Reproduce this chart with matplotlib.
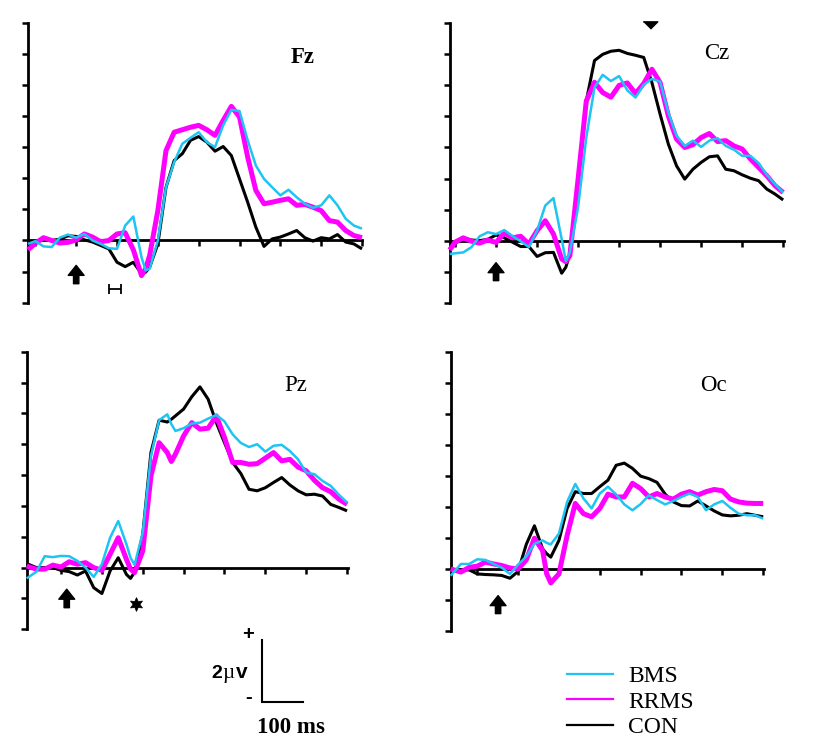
import numpy as np
import matplotlib
matplotlib.use("Agg")
import matplotlib.pyplot as plt
from matplotlib.transforms import Affine2D
from matplotlib.lines import Line2D

# ---------------- data (time in ms, amplitude in microvolts) ----------------
series_names = ["BMS", "RRMS", "CON"]
series_colors = ["#1EC4F2", "#FF00FF", "#000000"]

fz_t = [-118, -100, -80, -60, -40, -20, 0, 20, 40, 60, 80, 100, 120, 140, 160, 170, 180,
        200, 220, 240, 260, 280, 300, 320, 340, 360, 380, 400, 420, 440, 460, 480, 500,
        520, 540, 560, 580, 600, 620, 640, 660, 680, 700]
fz_con = [-0.16, -0.05, 0.02, 0.00, 0.04, 0.15, 0.13, 0.02, -0.05, -0.16, -0.27, -0.70, -0.84,
          -0.70, -1.07, -1.02, -0.86, -0.11, 1.71, 2.57, 2.79, 3.22, 3.34, 3.16, 2.87, 3.02,
          2.73, 1.98, 1.23, 0.43, -0.19, 0.05, 0.11, 0.21, 0.32, 0.09, -0.02, 0.09, 0.05,
          0.19, -0.05, -0.11, -0.27]
fz_rrms = [-0.30, -0.09, 0.09, 0.00, -0.08, -0.06, 0.02, 0.21, 0.11, -0.04, 0.00, 0.21, 0.25,
           -0.30, -1.13, -0.91, -0.48, 0.96, 2.89, 3.48, 3.56, 3.64, 3.70, 3.56, 3.38, 3.86,
           4.31, 3.97, 2.68, 1.61, 1.18, 1.23, 1.29, 1.34, 1.13, 1.16, 1.07, 0.96, 0.64,
           0.59, 0.32, 0.16, 0.09]
fz_bms = [-0.11, -0.02, -0.19, -0.21, 0.09, 0.19, 0.09, 0.21, 0.00, -0.11, -0.25, -0.27, 0.48,
          0.77, -0.54, -0.96, -0.91, 0.00, 1.71, 2.52, 3.11, 3.30, 3.48, 3.16, 3.00, 3.70,
          4.20, 4.16, 3.22, 2.41, 1.98, 1.71, 1.45, 1.63, 1.39, 1.18, 1.05, 1.13, 1.45,
          1.13, 0.70, 0.48, 0.38]

cz_t = [-113, -100, -80, -60, -40, -20, 0, 20, 40, 60, 80, 100, 120, 140, 160, 170, 180,
        200, 220, 240, 260, 280, 300, 320, 340, 360, 380, 400, 420, 440, 460, 480, 500,
        520, 540, 560, 580, 600, 620, 640, 660, 680, 700]
cz_con = [-0.27, -0.09, 0.09, 0.02, 0.00, 0.04, 0.18, 0.09, -0.05, -0.19, -0.19, -0.51, -0.39,
          -0.38, -1.05, -0.86, -0.43, 1.93, 4.50, 5.80, 6.00, 6.10, 6.13, 6.03, 5.97, 5.90,
          5.09, 4.07, 3.11, 2.41, 1.98, 2.30, 2.52, 2.70, 2.73, 2.30, 2.25, 2.12, 2.01,
          1.93, 1.66, 1.50, 1.31]
cz_rrms = [-0.30, -0.05, 0.09, -0.02, -0.08, 0.02, -0.06, 0.25, 0.09, 0.14, -0.11, 0.32, 0.64,
           0.21, -0.59, -0.68, -0.48, 1.98, 4.50, 5.10, 4.77, 4.62, 5.00, 5.08, 4.74, 5.06,
           5.52, 5.09, 4.02, 3.27, 3.00, 3.09, 3.32, 3.45, 3.19, 3.22, 3.05, 2.95, 2.63,
           2.36, 2.09, 1.77, 1.55]
cz_bms = [-0.43, -0.41, -0.38, -0.21, 0.14, 0.27, 0.21, 0.34, 0.15, -0.02, -0.21, 0.32, 1.13,
          1.37, 0.05, -0.66, -0.38, 1.07, 3.32, 4.93, 5.34, 5.14, 5.30, 4.84, 4.61, 5.02,
          5.21, 5.12, 4.13, 3.38, 3.05, 3.22, 3.02, 3.22, 3.30, 3.05, 2.93, 2.73, 2.73,
          2.50, 2.12, 1.82, 1.55]

pz_t = [-84, -60, -40, -20, 0, 20, 40, 60, 80, 100, 120, 140, 160, 170, 180, 200, 220, 240,
        260, 270, 280, 300, 320, 340, 360, 380, 400, 420, 440, 460, 480, 500, 520, 540,
        560, 580, 600, 620, 640, 660, 680, 700]
pz_con = [0.13, 0.00, 0.00, 0.00, -0.09, -0.13, -0.24, -0.11, -0.65, -0.84, -0.11, 0.32, -0.22,
          -0.35, -0.15, 1.08, 3.73, 4.78, 4.72, 4.81, 4.92, 5.14, 5.54, 5.86, 5.46, 4.70,
          4.05, 3.41, 3.05, 2.54, 2.49, 2.59, 2.76, 2.92, 2.68, 2.49, 2.36, 2.38, 2.32,
          2.05, 1.95, 1.84]
pz_rrms = [0.05, -0.05, -0.05, 0.08, 0.02, 0.19, 0.11, 0.16, 0.00, -0.09, 0.43, 0.97, 0.27,
           -0.05, -0.16, 0.54, 2.97, 4.05, 3.73, 3.44, 3.68, 4.27, 4.70, 4.49, 4.52, 4.92,
           4.22, 3.41, 3.41, 3.35, 3.37, 3.55, 3.73, 3.46, 3.51, 3.26, 3.14, 2.83, 2.59,
           2.46, 2.22, 2.05]
pz_bms = [-0.35, -0.13, 0.37, 0.34, 0.38, 0.37, 0.22, 0.00, -0.30, 0.11, 0.97, 1.51, 0.76,
          0.32, 0.09, 1.14, 3.62, 4.78, 4.97, 4.65, 4.43, 4.52, 4.67, 4.70, 4.83, 4.95,
          4.74, 4.32, 4.04, 3.91, 4.00, 3.76, 3.95, 3.98, 3.78, 3.51, 3.08, 3.03, 2.81,
          2.65, 2.36, 2.11]

oc_t = [-65, -40, -20, 0, 20, 40, 60, 80, 100, 120, 140, 160, 170, 180, 200, 220, 240, 260,
        280, 300, 320, 340, 360, 380, 400, 420, 440, 460, 480, 500, 520, 540, 560, 580,
        600, 620, 640, 660, 680, 700]
oc_con = [0.00, -0.05, -0.03, -0.16, -0.18, -0.19, -0.21, -0.30, -0.08, 0.79, 1.39, 0.65,
          0.49, 0.38, 0.92, 1.95, 2.49, 2.43, 2.43, 2.65, 2.86, 3.34, 3.41, 3.24, 2.99,
          2.91, 2.79, 2.41, 2.16, 2.04, 2.03, 2.19, 2.03, 1.87, 1.74, 1.71, 1.73, 1.78,
          1.73, 1.68]
oc_rrms = [0.00, -0.10, 0.05, 0.09, 0.22, 0.16, 0.11, 0.03, 0.00, 0.29, 0.99, 0.59, -0.16,
           -0.45, -0.16, 1.08, 2.11, 1.78, 1.68, 1.95, 2.41, 2.32, 2.32, 2.76, 2.59, 2.32,
           2.43, 2.32, 2.25, 2.41, 2.49, 2.38, 2.49, 2.56, 2.52, 2.25, 2.16, 2.12, 2.11,
           2.11]
oc_bms = [-0.22, 0.16, 0.16, 0.31, 0.29, 0.16, 0.04, -0.16, 0.14, 0.40, 0.81, 0.92, 0.84,
          0.79, 1.14, 2.16, 2.74, 2.27, 1.95, 2.43, 2.65, 2.40, 2.08, 1.89, 2.09, 2.37,
          2.22, 2.08, 2.19, 2.32, 2.43, 2.32, 1.89, 2.08, 2.19, 1.97, 1.78, 1.73, 1.73,
          1.62]

y_ticks = list(range(-2, 8))
x_ticks = list(range(-100, 701, 100))

# ---------------- figure ----------------
W, H = 816, 752
fig = plt.figure(figsize=(W / 100, H / 100), dpi=100)
fig.patch.set_facecolor("white")
PIX = Affine2D().scale(1.0 / W, -1.0 / H).translate(0, 1) + fig.transFigure


def box(l, r, t, b):
    return [l / W, 1 - b / H, (r - l) / W, (b - t) / H]


SERIF = ["Liberation Serif", "DejaVu Serif"]
SANS = ["Liberation Sans", "DejaVu Sans"]

panels = [
    dict(name="Fz", rect=box(28, 362, 22.7, 302.7), xlim=(-118, 700), t=fz_t,
         vals=(fz_bms, fz_rrms, fz_con), title=(302.5, 62.7), bold=True,
         arrow=(0, -1.39, -0.80)),
    dict(name="Cz", rect=box(449.7, 784, 23.3, 302.7), xlim=(-113, 702), t=cz_t,
         vals=(cz_bms, cz_rrms, cz_con), title=(717, 59.3), bold=False,
         arrow=(0, -1.29, -0.71)),
    dict(name="Pz", rect=box(26.7, 348.3, 351.7, 629.3), xlim=(-84, 703), t=pz_t,
         vals=(pz_bms, pz_rrms, pz_con), title=(296, 390.7), bold=False,
         arrow=(14, -1.30, -0.70)),
    dict(name="Oc", rect=box(450.7, 764, 351.7, 631), xlim=(-65, 702), t=oc_t,
         vals=(oc_bms, oc_rrms, oc_con), title=(713.8, 390.7), bold=False,
         arrow=(51, -1.44, -0.86)),
]

widths = {"BMS": 1.8, "RRMS": 3.6, "CON": 2.2}
zorders = {"BMS": 5, "RRMS": 4, "CON": 3}

axes = {}
for p in panels:
    ax = fig.add_axes(p["rect"])
    axes[p["name"]] = ax
    ax.patch.set_visible(False)
    ax.set_xlim(*p["xlim"])
    ax.set_ylim(-2, 7)
    for s in ("top", "right"):
        ax.spines[s].set_visible(False)
    ax.spines["bottom"].set_position(("data", 0))
    ax.spines["left"].set_linewidth(2.0)
    ax.spines["bottom"].set_linewidth(2.0)
    ax.set_yticks(y_ticks)
    ax.set_xticks([x for x in x_ticks if p["xlim"][0] <= x <= p["xlim"][1]])
    ax.tick_params(axis="y", direction="out", length=4, width=1.8,
                   labelleft=False)
    ax.tick_params(axis="x", direction="out", length=4.5, width=1.8,
                   labelbottom=False)
    t = np.array(p["t"], dtype=float)
    for name, col, v in zip(series_names, series_colors, p["vals"]):
        ax.plot(t, v, color=col, lw=widths[name], zorder=zorders[name],
                solid_joinstyle="round", solid_capstyle="butt", clip_on=False)
    # stimulus arrow
    ax_t, y0, y1 = p["arrow"]
    ax.annotate("", xy=(ax_t, y1), xytext=(ax_t, y0),
                arrowprops=dict(arrowstyle="simple,head_width=0.95,head_length=0.6,tail_width=0.32",
                                color="black", mutation_scale=12, shrinkA=0, shrinkB=0),
                annotation_clip=False)
    fig.text(p["title"][0], p["title"][1], p["name"], transform=PIX,
             ha="center", va="baseline", fontsize=16.5, family=SERIF,
             fontweight="bold" if p["bold"] else "normal")

# Fz: horizontal interval marker
axes["Fz"].errorbar([95.5], [-1.55], xerr=[14.5], fmt="none", ecolor="black",
                    elinewidth=1.3, capsize=3.6, capthick=1.3, clip_on=False)
# Cz: downward triangle at top
axes["Cz"].plot([376], [6.95], marker=[(-1, 0.5), (1, 0.5), (0, -0.5)], ms=10.5,
                color="black", clip_on=False, zorder=6)
# Pz: star marker
axes["Pz"].plot([184], [-1.17], marker=(6, 1, 0), ms=10, color="black",
                clip_on=False, zorder=6, mew=0.5)

# scale bar (100 ms, 2 microvolt) in Pz data units
sb = axes["Pz"]
sb_t0, sb_y0 = 492, -4.36
sb.plot([sb_t0, sb_t0, sb_t0 + 100], [sb_y0 + 2, sb_y0, sb_y0], color="black",
        lw=1.5, clip_on=False, solid_joinstyle="miter")
fig.text(248.3, 640.5, "+", transform=PIX, ha="center", va="baseline",
         fontsize=14.5, fontweight="bold", family=SANS)
fig.text(248.3, 703.0, "-", transform=PIX, ha="center", va="baseline",
         fontsize=14.5, fontweight="bold", family=SANS)
fig.text(211.7, 678.3, "2", transform=PIX, ha="left", va="baseline",
         fontsize=14, fontweight="bold", family=SANS)
fig.text(222.0, 678.3, "\u00b5", transform=PIX, ha="left", va="baseline",
         fontsize=15, family=SERIF)
fig.text(235.5, 678.3, "v", transform=PIX, ha="left", va="baseline",
         fontsize=15, fontweight="bold", family=SANS)
fig.text(291.2, 733.3, "100 ms", transform=PIX, ha="center", va="baseline",
         fontsize=16.4, fontweight="bold", family=SERIF)

# legend
leg_y = [674.3, 699.3, 725.0]
for name, col, y in zip(series_names, series_colors, leg_y):
    fig.add_artist(Line2D([566.7, 613.3], [y, y], transform=PIX, color=col, lw=1.6))
    fig.text(628.3, y + 8.2, name, transform=PIX, ha="left", va="baseline",
             fontsize=17, family=SERIF)

fig.savefig("out.png", dpi=100, facecolor="white")
